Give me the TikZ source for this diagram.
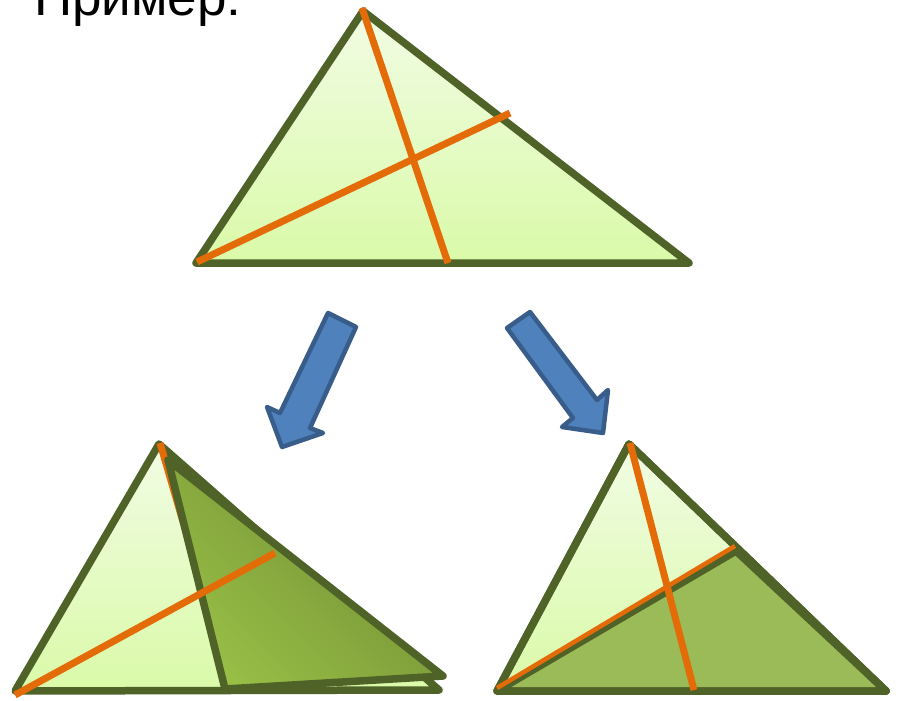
\documentclass[tikz,border=0pt]{standalone}
\usepackage{fontspec}
\setmainfont{Liberation Sans}
\definecolor{olive}{RGB}{79,98,40}
\definecolor{orangeL}{RGB}{227,108,9}
\definecolor{lightTop}{RGB}{241,252,228}
\definecolor{lightBot}{RGB}{218,250,168}
\definecolor{darkA}{RGB}{152,190,70}
\definecolor{darkB}{RGB}{112,140,52}
\definecolor{darkFill}{RGB}{155,187,89}
\definecolor{arrowFill}{RGB}{79,129,189}
\definecolor{arrowLine}{RGB}{56,93,138}
\tikzset{
  tri/.style={draw=olive, line width=7.5pt, line join=round, top color=lightTop, bottom color=lightBot},
  darktri/.style={draw=olive, line width=7.5pt, line join=round},
  med/.style={draw=orangeL, line width=7pt},
  blockarrow/.style={draw=arrowLine, fill=arrowFill, line width=4.5pt, line join=round},
}
\begin{document}
\begin{tikzpicture}[x=1pt,y=-1pt]
\useasboundingbox (0,0) rectangle (899,701);
\clip (0,0) rectangle (899,701);
\fill[white] (0,0) rectangle (899,701);
% title
\node[anchor=base west, inner sep=0pt, font=\fontsize{53}{60}\selectfont] (title) at (34,16) {Пример:};
% top triangle
\coordinate (A) at (363,11);
\coordinate (B) at (196,263);
\coordinate (C) at (689,263);
\path[tri] (A) -- (B) -- (C) -- cycle;
\draw[med] (362,8) -- (448,263);
\draw[med] (197,262) -- (510,113);
% arrows
\path[blockarrow] (328,313) -- (356,327) -- (310,428) -- (323,433) -- (282,447) -- (267,407) -- (280,413) -- cycle;
\path[blockarrow] (507,328) -- (530,312) -- (597,400) -- (608,390) -- (603,433) -- (562,427) -- (573,418) -- cycle;
% bottom-left
\coordinate (LA) at (159,444);
\coordinate (LB) at (15,691);
\coordinate (LC) at (439,690);
\path[tri] (LA) -- (LB) -- (LC) -- cycle;
\draw[med] (160,443) -- (232,690);
\coordinate (DA) at (168,460);
\coordinate (DB) at (225,689);
\coordinate (DC) at (443,676);
\path[darktri, top color=darkB, bottom color=darkA, shading angle=-45] (DA) -- (DB) -- (DC) -- cycle;
\draw[med] (15,695) -- (275,553);
% bottom-right
\coordinate (RA) at (629,444);
\coordinate (RB) at (497,691);
\coordinate (RC) at (886,691);
\coordinate (RM) at (736,551);
\path[tri] (RA) -- (RB) -- (RC) -- cycle;
\path[darktri, fill=darkFill] (RB) -- (RM) -- (RC) -- cycle;
\draw[olive, line width=7.5pt, line join=round] (RA) -- (RB) -- (RC) -- cycle;
\draw[orangeL, line width=4.5pt] (497,688) -- (735,546);
\draw[med] (630,443) -- (694,690);
\end{tikzpicture}
\end{document}
